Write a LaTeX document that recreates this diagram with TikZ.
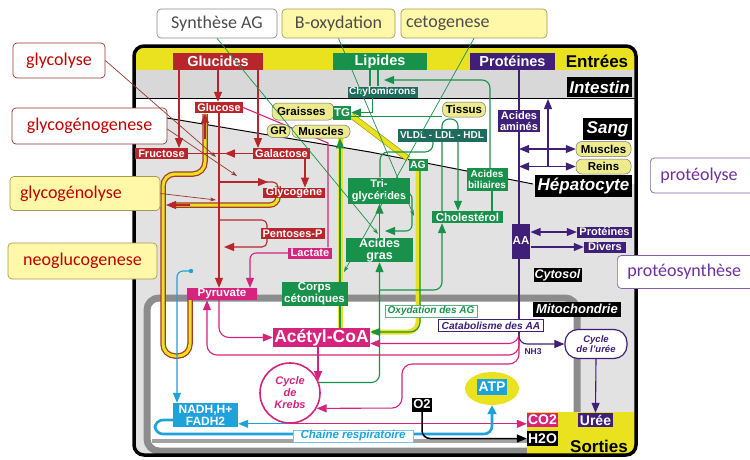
\documentclass[tikz,border=0pt]{standalone}
\usepackage{fontspec}
\setmainfont{Liberation Sans}
\newfontfamily\bullefont{Carlito}
\usetikzlibrary{calc, arrows.meta, positioning, shapes.geometric}

\pgfdeclarelayer{fond}
\pgfdeclarelayer{liens}
\pgfsetlayers{fond,liens,main}

\definecolor{rouge}{HTML}{B8262C}
\definecolor{rose}{HTML}{D6247E}
\definecolor{vert}{HTML}{18924A}
\definecolor{sarcelle}{HTML}{1F6B5E}
\definecolor{pourpre}{HTML}{3F1F78}
\definecolor{bleu}{HTML}{1DA2DB}
\definecolor{jaune}{HTML}{EAE21E}
\definecolor{jaunepale}{HTML}{EDEB8E}
\definecolor{jaunebulle}{HTML}{FFF8A8}
\definecolor{bordbulle}{HTML}{A39C50}
\definecolor{grisfond}{HTML}{E2E2E2}
\definecolor{grisintestin}{HTML}{D8D8D8}
\definecolor{grismito}{HTML}{8C8C8C}
\definecolor{brun}{HTML}{A63A2A}
\definecolor{rougetexte}{HTML}{C00000}
\definecolor{rougebord}{HTML}{953735}
\definecolor{violettexte}{HTML}{7030A0}
\definecolor{violetbord}{HTML}{8064A2}

\newcommand{\grasf}[1]{\bfseries\fontsize{#1}{12}\selectfont}
\newcommand{\grasl}[2]{\bfseries\fontsize{#1}{#2}\selectfont}

\tikzset{
  boite/.style={fill=#1, text=white, font=\grasf{11}, inner xsep=1pt, inner ysep=0pt, align=center},
  entete/.style={boite=#1, font=\grasf{14.5}, minimum height=17pt},
  pilule/.style={fill=jaunepale, draw=black!55, line width=0.5pt, rounded corners=6pt,
                 font=\grasf{11.5}, inner xsep=2pt, inner ysep=0pt},
  zone/.style={fill=black, text=white, font=\bfseries\itshape\fontsize{17}{17}\selectfont, inner sep=1pt},
  bulle/.style={rounded corners=4pt, font=\bullefont\fontsize{18}{18}\selectfont, inner xsep=5pt, line width=0.7pt},
  lien/.style={line width=1.1pt},
  fl/.style={-{Triangle[length=10pt,width=8pt]}},
  dfl/.style={{Triangle[length=10pt,width=8pt]}-{Triangle[length=10pt,width=8pt]}},
  rappel/.style={line width=0.7pt, -{Stealth[length=6pt,width=4pt]}},
}

\begin{document}
\begin{tikzpicture}[x=1pt, y=-1pt]
\useasboundingbox (0,0) rectangle (750,459);

    % ==========================================
    % ENTREES ET COMPARTIMENTS
    % ==========================================
    \node[entete=rouge, minimum width=90pt] (glucides) at (218,61.5) {Glucides};
    \node[entete=vert, minimum width=94pt] (lipides) at (380,61.5) {Lipides};
    \node[entete=pourpre, minimum width=85pt] (proteines) at (512.5,61.5) {Protéines};
    \node[font=\grasf{17}] (entrees) at (597,61.5) {Entrées};

    \node[zone, minimum width=65pt, minimum height=20pt] (intestin) at (599.5,87) {Intestin};
    \node[zone, minimum width=49pt, minimum height=22pt] (sang) at (607.5,129) {Sang};
    \node[zone, minimum width=97pt, minimum height=22pt] (hepato) at (583.5,186) {Hépatocyte};
    \node[zone, font=\bfseries\itshape\fontsize{12.5}{13}\selectfont, minimum width=48pt, minimum height=14pt] (cytosol) at (557.5,275) {Cytosol};
    \node[zone, font=\bfseries\itshape\fontsize{13}{13}\selectfont, minimum width=88pt, minimum height=15pt] (mito) at (577,309) {Mitochondrie};

    % ==========================================
    % GLUCIDES
    % ==========================================
    \node[boite=rouge, minimum width=48pt, minimum height=11pt] (glucose) at (219,107.5) {Glucose};
    \node[boite=rouge, minimum width=53pt, minimum height=10.5pt] (fructose) at (161.5,153.5) {Fructose};
    \node[boite=rouge, minimum width=57pt, minimum height=10.5pt] (galactose) at (281.5,153.5) {Galactose};
    \node[boite=rouge, minimum width=62pt, minimum height=10.5pt] (glycogene) at (294,193) {Glycogène};
    \node[boite=rouge, minimum width=64pt, minimum height=11pt] (pentoses) at (292.5,233.5) {Pentoses-P};
    \node[boite=rose, minimum width=44pt, minimum height=11pt] (lactate) at (310,253) {Lactate};
    \node[boite=rose, font=\grasf{11.5}, minimum width=70pt, minimum height=12pt] (pyruvate) at (222,294) {Pyruvate};
    \node[boite=rose, font=\grasf{17.5}, minimum width=97pt, minimum height=19pt] (acetylcoa) at (321.5,337.5) {Acétyl-CoA};

    % ==========================================
    % LIPIDES
    % ==========================================
    \node[boite=sarcelle, font=\grasf{10}, minimum width=70pt, minimum height=11pt] (chylo) at (382.5,92) {Chylomicrons};
    \node[pilule, minimum width=62pt, minimum height=17pt, text width=52pt, align=left] (graisses) at (303,111.5) {Graisses};
    \node[boite=vert, font=\grasf{11.5}, minimum width=18pt, minimum height=14pt] (tg) at (342,112.5) {TG};
    \node[pilule, font=\grasf{11}, minimum width=23pt, minimum height=13pt] (gr) at (278.5,131) {GR};
    \node[pilule, minimum width=58pt, minimum height=13pt] (muscles) at (321,131.5) {Muscles};
    \node[pilule, minimum width=43pt, minimum height=15pt] (tissus) at (464,109.5) {Tissus};
    \node[boite=sarcelle, font=\grasf{10}, minimum width=89pt, minimum height=13pt] (vldl) at (442,135) {VLDL - LDL - HDL};
    \node[boite=vert, font=\grasf{10.5}, minimum width=19pt, minimum height=12pt] (ag) at (418,165) {AG};
    \node[boite=vert, minimum width=62pt, minimum height=26pt] (trig) at (379,190.5) {Tri-\\glycérides};
    \node[boite=vert, font=\grasl{12.5}{12}, minimum width=67pt, minimum height=24pt] (acgras) at (379.5,250) {Acides\\gras};
    \node[boite=vert, font=\grasf{11.5}, minimum width=71pt, minimum height=12pt] (cholesterol) at (467.5,217) {Cholestérol};
    \node[boite=vert, font=\grasl{10}{10.5}, minimum width=41pt, minimum height=23pt] (acbil) at (487,179.5) {Acides\\biliaires};
    \node[boite=vert, font=\grasl{11.5}{12}, minimum width=66pt, minimum height=24pt] (corps) at (314.5,294) {Corps\\cétoniques};

    % ==========================================
    % PROTEINES
    % ==========================================
    \node[boite=pourpre, font=\grasl{11}{11}, minimum width=42pt, minimum height=22pt] (acam) at (519,121) {Acides\\aminés};
    \node[pilule, minimum width=55pt, minimum height=15pt] (muscles2) at (603.5,149) {Muscles};
    \node[pilule, minimum width=55pt, minimum height=15pt] (reins) at (603.5,166.5) {Reins};
    \node[boite=pourpre, font=\grasf{11.5}, minimum width=17pt, minimum height=35pt] (aa) at (521,241) {AA};
    \node[boite=pourpre, minimum width=55pt, minimum height=11pt] (protcyt) at (604.5,232) {Protéines};
    \node[boite=pourpre, minimum width=42pt, minimum height=11pt] (divers) at (605,247) {Divers};

    % ==========================================
    % MITOCHONDRIE ET SORTIES
    % ==========================================
    \node[circle, draw=rose, line width=1.6pt, fill=white, minimum size=60pt, inner sep=0pt, text=rose,
          font=\bfseries\itshape\fontsize{11}{12}\selectfont, align=center] (krebs) at (290,393) {Cycle\\de\\Krebs};
    \node[boite=bleu, font=\grasf{12}, minimum width=65pt, minimum height=24pt] (nadh) at (205.5,415) {NADH,H+\\FADH2};
    \node[ellipse, fill=jaune, minimum width=54pt, minimum height=33pt] (atpell) at (492,388.5) {};
    \node[boite=bleu, font=\grasf{14}, minimum width=30pt, minimum height=16pt] (atp) at (492,386.5) {ATP};
    \node[boite=black, font=\grasf{13}, minimum width=20pt, minimum height=14pt] (o2) at (422,404.5) {O2};
    \node[boite=rose, font=\grasf{14}, minimum width=31pt, minimum height=14pt] (co2) at (542.5,420) {CO2};
    \node[boite=black, font=\grasf{14}, minimum width=31pt, minimum height=15pt] (h2o) at (542.5,438.5) {H2O};
    \node[boite=pourpre, font=\grasf{14}, minimum width=35pt, minimum height=14pt] (uree) at (595.5,420) {Urée};
    \node[font=\grasf{17}] (sorties) at (599,446) {Sorties};
    \node[draw=pourpre, line width=1.2pt, fill=white, rounded corners=13pt, minimum width=62pt, minimum height=29pt,
          text=pourpre, font=\bfseries\itshape\fontsize{9.5}{10}\selectfont, align=center, inner sep=0pt] (cycleuree) at (596,344) {Cycle\\de l'urée};
    \node[text=pourpre, font=\grasf{8.5}, inner sep=0pt] (nh3) at (533,352) {NH3};
    \node[draw=pourpre, line width=0.5pt, fill=white, text=pourpre, font=\bfseries\itshape\fontsize{10.2}{10}\selectfont,
          minimum width=105pt, minimum height=12pt, inner sep=0pt] (catab) at (491,325.5) {Catabolisme des AA};
    \node[draw=vert!70, line width=0.5pt, fill=white, text=vert, font=\bfseries\itshape\fontsize{10}{10}\selectfont,
          minimum width=92pt, minimum height=12pt, inner sep=0pt] (oxyd) at (431,311) {Oxydation des AG};
    \node[draw=bleu!60, line width=0.5pt, fill=white, text=bleu, font=\bfseries\itshape\fontsize{11.5}{12}\selectfont,
          minimum width=120pt, minimum height=12pt, inner sep=0pt] (chaine) at (353,436) {Chaine respiratoire};

    % ==========================================
    % BULLES DE LEGENDE
    % ==========================================
    \node[bulle, draw=black!45, fill=white, text=black!70, minimum width=120pt, minimum height=29pt] (synthese) at (217,23.5) {Synthèse AG};
    \node[bulle, draw=bordbulle, fill=jaunebulle, text=black!70, minimum width=113pt, minimum height=29pt] (boxy) at (338.5,23.5) {B-oxydation};
    \node[bulle, draw=bordbulle, fill=jaunebulle, text=black!70, text width=136pt, align=left, minimum height=29pt] (ceto) at (474,23.5) {cetogenese};
    \node[bulle, draw=rougebord, fill=white, text=rougetexte, minimum width=92pt, minimum height=35pt] (glycolyse) at (59,60.5) {glycolyse};
    \node[bulle, draw=rougebord, fill=white, text=rougetexte, minimum width=155pt, minimum height=36pt] (glycogenogenese) at (89.5,126) {glycogénogenese};
    \node[bulle, draw=bordbulle, fill=jaunebulle, text=rougetexte, text width=130pt, inner xsep=10pt, align=left, minimum height=34pt] (glycogenolyse) at (85,193.5) {glycogénolyse};
    \node[bulle, draw=bordbulle, fill=jaunebulle, text=rougetexte, minimum width=149pt, minimum height=36pt] (neoglucogenese) at (82.5,261) {neoglucogenese};
    \node[bulle, draw=violetbord, fill=white, text=violettexte, anchor=west, text width=110pt, inner xsep=10pt, align=left, minimum height=35pt] (proteolyse) at (650,175.5) {protéolyse};
    \node[bulle, draw=violetbord, fill=white, text=violettexte, anchor=west, text width=140pt, inner xsep=10pt, align=left, minimum height=33pt] (proteosynthese) at (617,272) {protéosynthèse};

    % ==========================================
    % FOND : cadre, bandes, mitochondrie
    % ==========================================
    \begin{pgfonlayer}{fond}
        \fill[white] (0,0) rectangle (750,459);
        \fill[grisfond, rounded corners=10pt] (134,46) rectangle (636,455);
        \fill[jaune, rounded corners=9pt] (135,47) rectangle (635,74);
        \fill[grisintestin] (135,70) rectangle (635,98);
        % le sang (blanc) au-dessus de la diagonale
        \fill[white] (135,98) -- (635,98) -- (635,184) -- (533,184) -- (370,152) -- (167,118) -- (135,113) -- cycle;
        \draw[line width=0.8pt] (135,98) -- (635,98);
        \draw[line width=1pt] (135,113) -- (167,118) -- (370,152) -- (533,184);
        % mitochondrie
        \draw[grismito, line width=7pt, fill=white, rounded corners=12pt] (147,298) rectangle (577,451);
        \draw[grismito!80, line width=4pt] (152,441) -- (527,441);
        \fill[jaune] (527,412) rectangle (635,454);
        \draw[line width=3.5pt, rounded corners=10pt] (134,46) rectangle (636,455);
    \end{pgfonlayer}

    % ==========================================
    % LIAISONS
    % ==========================================
    \begin{pgfonlayer}{liens}
        % voies jaunes (neoglucogenese, glycogenolyse)
        \def\neoglu{(190,300) -- (190,356) -- (163,356) -- (163,174) -- (205,174) -- (205,114)}
        \def\glylyse{(278,186) -- (278,205) -- (172,205)}
        \draw[brun, line width=5.5pt, rounded corners=12pt] \neoglu;
        \draw[jaune, line width=3pt, rounded corners=12pt] \neoglu;
        \draw[brun, line width=5.5pt, rounded corners=8pt] \glylyse;
        \draw[jaune, line width=3pt, rounded corners=8pt] \glylyse;
        \draw[rouge, lien, fl] ([xshift=-14pt]glucose.south) ++(0,26) -- ([xshift=-14pt]glucose.south);
        \draw[rouge, lien, fl] (190,205) -- (166,205);

        % glucides
        \draw[rouge, lien, fl] ([xshift=-39pt]glucides.south) -- ([xshift=-39pt]glucides.south |- fructose.north);
        \draw[rouge, lien, fl] (glucides.south) -- (glucides.south |- glucose.north);
        \draw[rouge, lien, fl] ([xshift=40pt]glucides.south) -- ([xshift=40pt]glucides.south |- galactose.north);
        \draw[rouge, lien] (fructose.east) -- (galactose.west);
        \draw[rouge, lien, fl] (galactose.west) -- ++(-28,0);
        \draw[rouge, lien, fl] (glucose.south) -- (glucose.south |- pyruvate.north);
        \draw[rouge, lien, fl] ([xshift=23.5pt]galactose.south) -- ([xshift=23.5pt]galactose.south |- glycogene.north);
        \draw[rouge, lien, rounded corners=5pt] (glucose.south |- 0,182) -- (278,182) -- (278,190);
        \draw[rouge, lien, fl] (glucose.south |- 0,182) -- (268,182);
        \draw[rouge, lien, rounded corners=5pt] (glucose.south |- 0,220) -- (267,220) -- (267,229);
        \draw[rouge, lien, fl, rounded corners=5pt] (267,238) -- (267,247) -- ([xshift=5pt]glucose.south |- 0,247);

        % lactate, pyruvate, acetyl-CoA
        \draw[rose, lien] (glucose.east) -- (328,143) -- ([xshift=18pt]lactate.north);
        \draw[rose, lien, fl, rounded corners=6pt] (lactate.west) -| ([xshift=28pt]pyruvate.north);
        \draw[rose, lien, fl, rounded corners=10pt] ([xshift=-3pt]pyruvate.south) |- (acetylcoa.west);
        \coordinate (cata) at (519,333);
        \draw[rose, lien, fl, rounded corners=10pt] (cata) |- ([yshift=-6pt]acetylcoa.east);
        \draw[rose, lien, fl, rounded corners=10pt] (cata) -- (519,355) -| ([xshift=-15pt]pyruvate.south);
        \draw[rose, lien, fl, rounded corners=10pt] (cata) -- (519,364) -- (402,364) -- (402,408) -- (krebs.-30);
        \draw[rose, lien, fl] ([xshift=-3.5pt]acetylcoa.south) -- ++(0,34);
        \draw[rose, lien, fl] (krebs.south) -- (krebs.south -| co2.west);

        % lipides : voie d'oxydation (jaune) et corps cetoniques
        \draw[olive!80, line width=6pt] ([yshift=-3pt]tg.east) -- (ag.north west);
        \draw[jaune, line width=4.5pt] ([yshift=-3pt]tg.east) -- (ag.north west);
        \draw[jaune, line width=5pt, rounded corners=10pt] (ag.south) -- (418,332) -- (372,332);
        \draw[vert, lien, fl, rounded corners=10pt] ([xshift=2pt]ag.south) -- (420,332) -- (acetylcoa.east |- 0,332);
        \draw[jaune, line width=5pt] ([xshift=25.5pt]corps.north) -- ([xshift=25.5pt]corps.north |- muscles.south);
        \draw[vert, lien, fl] ([xshift=25.5pt]corps.north) -- ([xshift=25.5pt]corps.north |- muscles.south);
        \draw[jaune, line width=5pt] ([xshift=25.5pt]corps.south) -- ([xshift=25.5pt]corps.south |- acetylcoa.north);
        \draw[vert, lien] ([xshift=25.5pt]corps.south) -- ([xshift=25.5pt]corps.south |- acetylcoa.north);

        % lipides : transport
        \draw[vert, lien] ([xshift=-10pt]lipides.south) -- ([xshift=-10pt]lipides.south |- chylo.north);
        \draw[vert, lien] ([xshift=-2pt]lipides.south) -- ([xshift=-2pt]lipides.south |- chylo.north);
        \draw[vert, lien, fl] ([xshift=-10pt]chylo.south) |- (tg.east);
        \draw[vert, lien] ([yshift=-4pt]tg.east) -- ([yshift=-4pt]tg.east -| tissus.west);
        \draw[vert, lien, fl, rounded corners=8pt] ([xshift=3pt]acbil.north) -- (490,80) -- (384,80);
        \draw[vert, lien, rounded corners=8pt] ([xshift=1pt]trig.north) -- (380,152) -- (433,152) -- ([xshift=-9pt]vldl.south);
        \draw[vert, lien, fl, rounded corners=7pt] ([xshift=-25.5pt]cholesterol.north) -- (442,119) -- (458,119) -- ([xshift=-9.5pt]cholesterol.north);
        \draw[vert, lien] ([xshift=5pt]acbil.south) -- ([xshift=5pt]acbil.south |- cholesterol.north);
        \draw[vert, lien, fl] (acgras.north) -- (acgras.north |- trig.south);
        \draw[vert, lien, fl, rounded corners=6pt] ([yshift=-2pt]trig.east) -- (412,192.5) -- (412,231) -- (385,231);
        \draw[vert, lien, fl, rounded corners=8pt] (krebs.20) -| (acgras.south);
        \coordinate (bifchol) at (379.5,290);
        \draw[vert, lien, fl, rounded corners=8pt] (bifchol) -| ([xshift=-25.5pt]cholesterol.south);

        % proteines
        \draw[pourpre, lien] (proteines.south -| cata) -- (cata);
        \coordinate (sangbas) at (548,167);
        \coordinate (intestinhaut) at (548,99);
        \draw[pourpre, lien, fl] (sangbas) -- (intestinhaut);
        \draw[pourpre, lien, dfl] (muscles2.west -| cata) -- (muscles2.west);
        \draw[pourpre, lien, dfl] (reins.west -| cata) -- (reins.west);
        \draw[pourpre, lien, dfl] (aa.east |- protcyt.west) -- (protcyt.west);
        \draw[pourpre, lien, fl] (aa.east |- divers.west) -- (divers.west);
        \draw[pourpre, lien, fl, rounded corners=8pt] (cata) |- (cycleuree.west);
        \draw[pourpre, lien, fl] (cycleuree.south) -- (uree.north);

        % chaine respiratoire
        \coordinate (pointbleu) at (191,271);
        \fill[bleu] (pointbleu) circle (2.2pt);
        \draw[bleu, lien, fl, rounded corners=6pt] (pointbleu) -- (177,271) -- ([xshift=-28.5pt]nadh.north);
        \draw[bleu, lien, fl] (krebs.south) -- (krebs.south -| nadh.east);
        \draw[bleu, line width=2.6pt, rounded corners=8pt, -{Triangle[length=9pt,width=9pt]}]
            ([yshift=-5pt]nadh.west) -- (155,420) -- (155,434) -- (492,434) -- (atpell.south);
        \draw[black, line width=1.5pt, fl, rounded corners=8pt] (o2.south) |- (h2o.west);
    \end{pgfonlayer}

    % ==========================================
    % RAPPELS DES BULLES
    % ==========================================
    \coordinate (cglycolyse) at (216,157);
    \coordinate (cglycogenogenese) at (237,176);
    \coordinate (cglycogenolyse) at (216,200);
    \coordinate (csynthese) at (378,234);
    \coordinate (cboxy) at (414,216);
    \coordinate (cceto) at (344,272);
    \draw[rougebord, rappel] (glycolyse.east) -- (cglycolyse);
    \draw[rougebord, rappel] ([yshift=-3pt]glycogenogenese.east) -- (cglycogenogenese);
    \draw[rougebord, rappel] (glycogenolyse.east) -- (cglycogenolyse);
    \draw[vert, rappel] (synthese.south) -- (csynthese);
    \draw[vert, rappel] (boxy.south) -- (cboxy);
    \draw[vert, rappel] (ceto.south) -- (cceto);

\end{tikzpicture}
\end{document}
